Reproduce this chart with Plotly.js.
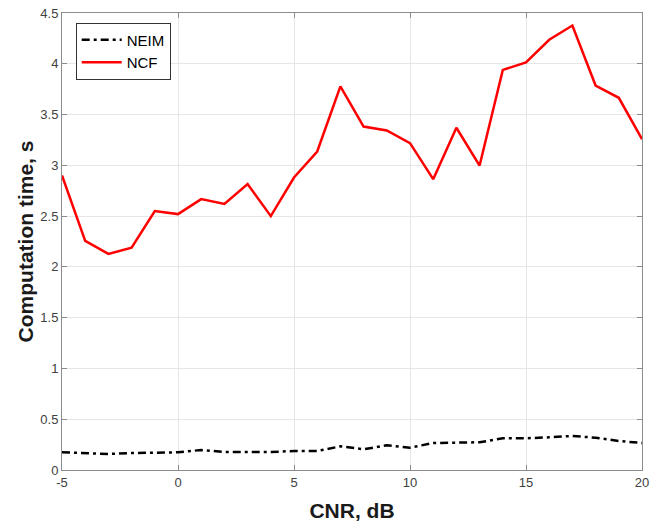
<!DOCTYPE html>
<html>
<head>
<meta charset="utf-8">
<script src="https://cdn.plot.ly/plotly-3.0.1.min.js"></script>
<style>
  html, body { margin: 0; padding: 0; background: #ffffff; }
  #chart { width: 651px; height: 523px; }
</style>
</head>
<body>
<div id="chart"></div>
<script>
// CNR values (dB) at which both methods were timed
const cnrDb = [-5, -4, -3, -2, -1, 0, 1, 2, 3, 4, 5, 6, 7, 8, 9, 10, 11, 12, 13, 14, 15, 16, 17, 18, 19, 20];

// Computation time in seconds
const neimTime = [0.174, 0.167, 0.158, 0.167, 0.167, 0.174, 0.197, 0.177, 0.177, 0.177, 0.187, 0.187,
                  0.233, 0.204, 0.243, 0.220, 0.266, 0.266, 0.273, 0.312, 0.312, 0.322, 0.335, 0.318, 0.286, 0.266];
const ncfTime  = [2.90, 2.256, 2.128, 2.19, 2.55, 2.52, 2.667, 2.62, 2.815, 2.50, 2.88, 3.136,
                  3.777, 3.382, 3.343, 3.218, 2.864, 3.37, 2.998, 3.94, 4.013, 4.236, 4.377, 3.786, 3.665, 3.258];

const seriesNames = ['NEIM', 'NCF'];
const xTicks = [-5, 0, 5, 10, 15, 20];
const yTicks = [0, 0.5, 1, 1.5, 2, 2.5, 3, 3.5, 4, 4.5];

const fontFamily = '"Liberation Sans", Arial, Helvetica, sans-serif';
const axisColor = '#8c8c8c';

const traces = [
  {
    x: cnrDb, y: neimTime, name: seriesNames[0], type: 'scatter', mode: 'lines',
    line: { color: '#000000', width: 2.5, dash: '8px,4px,3px,4px' }
  },
  {
    x: cnrDb, y: ncfTime, name: seriesNames[1], type: 'scatter', mode: 'lines',
    line: { color: '#ff0000', width: 2.5 }
  }
];

const commonAxis = {
  showline: true, linecolor: axisColor, linewidth: 1, mirror: 'ticks',
  ticks: 'inside', ticklen: 5, tickcolor: axisColor, tickwidth: 1,
  showgrid: true, gridcolor: '#e6e6e6', gridwidth: 1,
  zeroline: false,
  tickfont: { family: fontFamily, size: 13, color: '#404040' }
};

const layout = {
  width: 651, height: 523,
  margin: { l: 62, r: 9, t: 13, b: 53 },
  paper_bgcolor: '#ffffff', plot_bgcolor: '#ffffff',
  showlegend: true,
  legend: {
    x: 0.0236, y: 0.979, xanchor: 'left', yanchor: 'top',
    bgcolor: '#ffffff', bordercolor: '#333333', borderwidth: 1,
    font: { family: fontFamily, size: 15, color: '#000000' },
    tracegroupgap: 0, itemwidth: 40
  },
  xaxis: Object.assign({}, commonAxis, {
    range: [-5, 20], tickvals: xTicks, ticktext: xTicks.map(String),
    title: { text: 'CNR, dB', standoff: 14, font: { family: fontFamily, size: 21, color: '#1a1a1a', weight: 'bold' } }
  }),
  yaxis: Object.assign({}, commonAxis, {
    range: [0, 4.5], tickvals: yTicks, ticktext: yTicks.map(String),
    title: { text: 'Computation time, s', standoff: 0, font: { family: fontFamily, size: 21, color: '#1a1a1a', weight: 'bold' } }
  })
};

Plotly.newPlot('chart', traces, layout, { staticPlot: true, displayModeBar: false });
</script>
</body>
</html>
